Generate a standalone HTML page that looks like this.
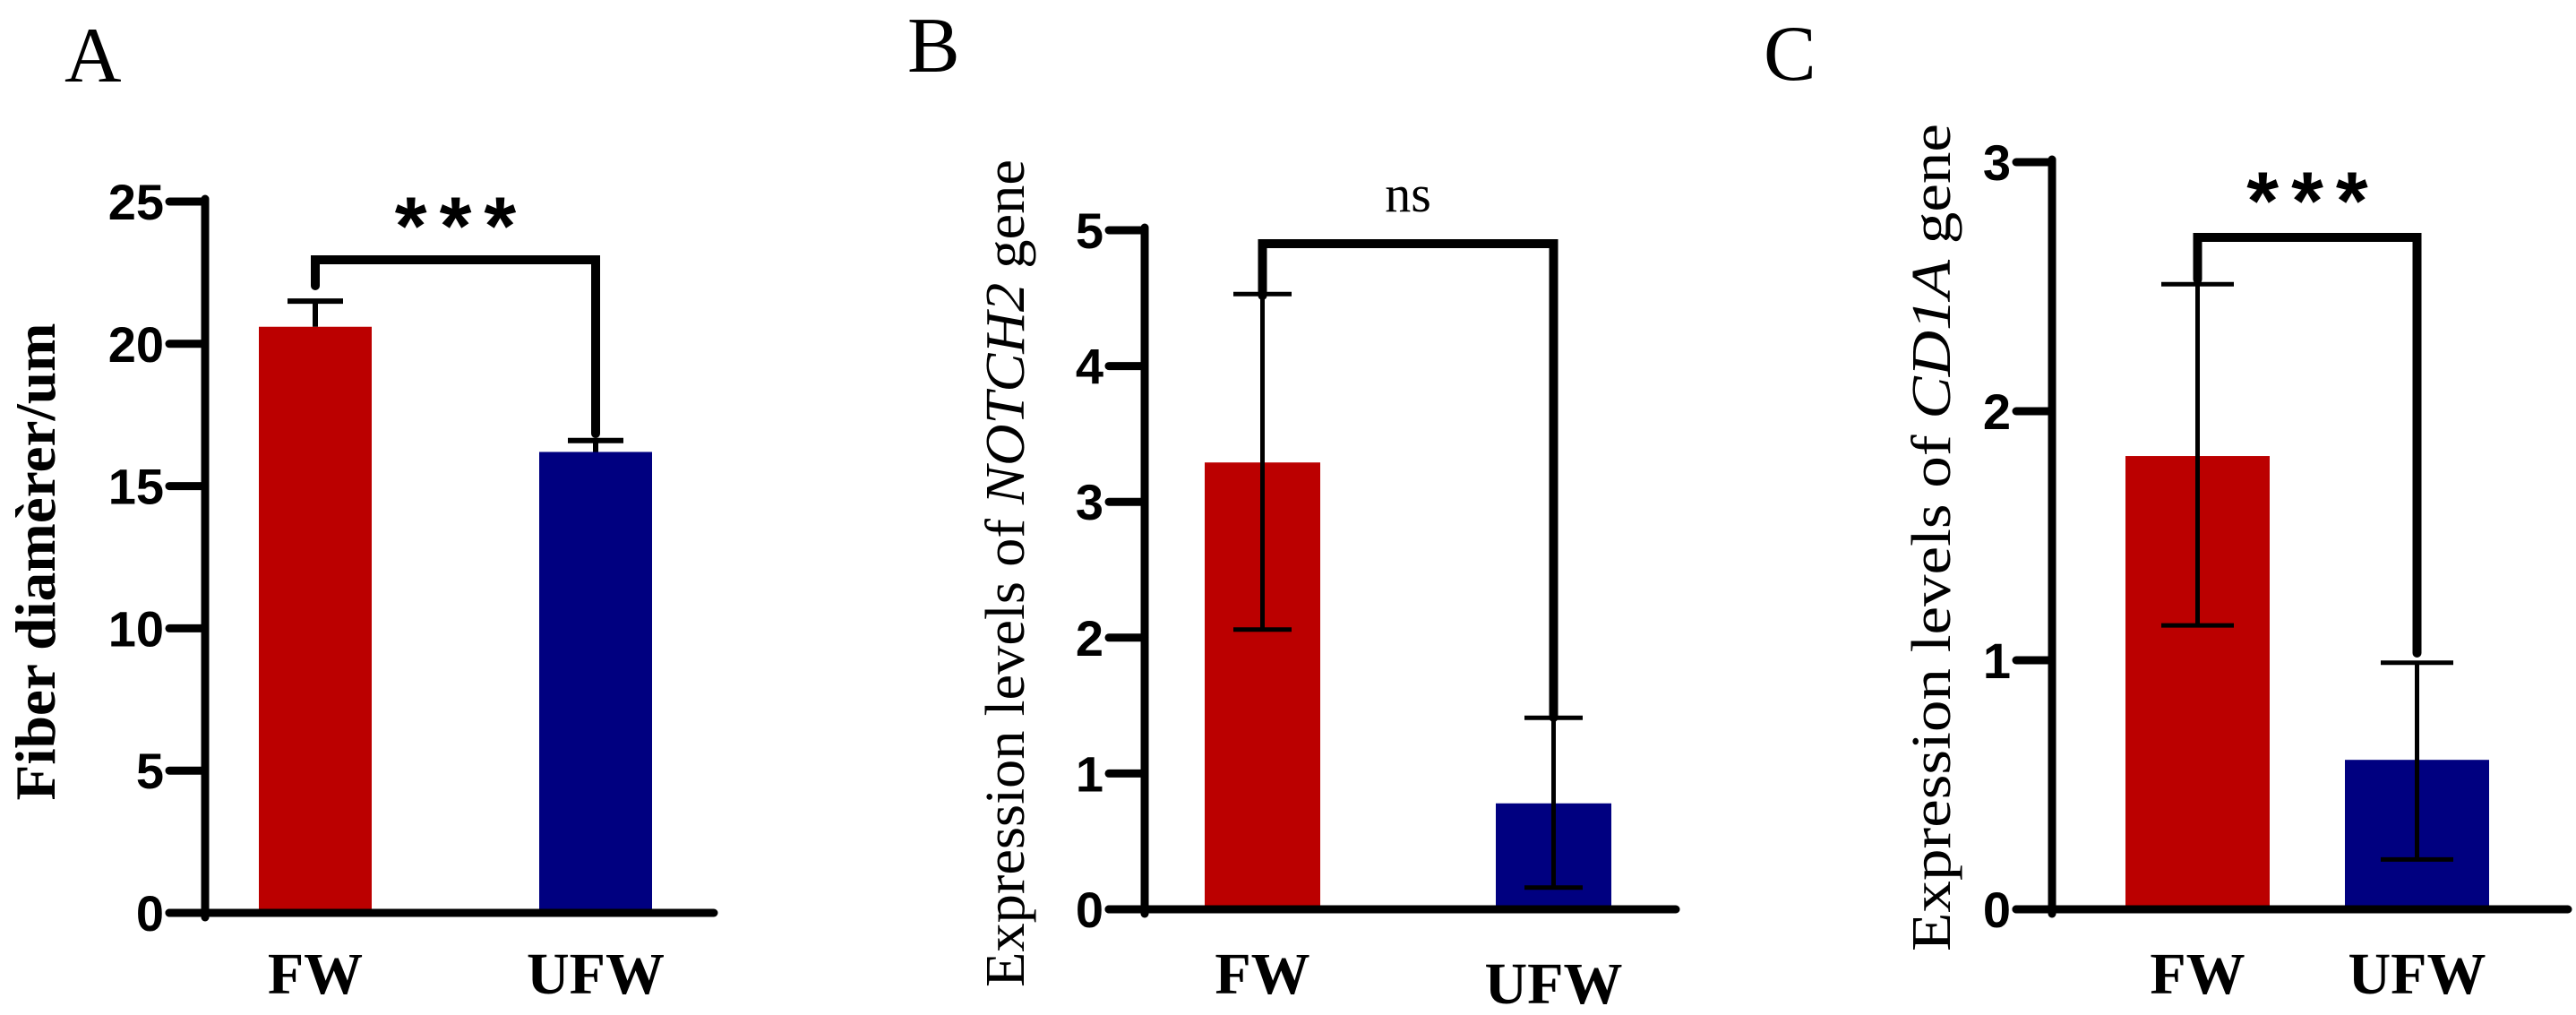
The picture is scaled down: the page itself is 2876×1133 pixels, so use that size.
<!DOCTYPE html>
<html><head><meta charset="utf-8"><style>
html,body{margin:0;padding:0;background:#fff;}
svg{display:block;}
</style></head><body>
<svg id="fig" width="2876" height="1133" viewBox="0 0 2876 1133" xmlns="http://www.w3.org/2000/svg"></svg>
<script>
// Data arrays
const categories = ["FW", "UFW"];
const panelALabel = "A", panelBLabel = "B", panelCLabel = "C";
const fiberMeans = [20.6, 16.2];
const fiberErrUp = [21.5, 16.6];
const fiberErrLow = [20.6, 16.2];
const fiberTicks = [0, 5, 10, 15, 20, 25];
const notchMeans = [3.29, 0.78];
const notchErrUp = [4.53, 1.41];
const notchErrLow = [2.06, 0.16];
const notchTicks = [0, 1, 2, 3, 4, 5];
const cd1aMeans = [1.82, 0.6];
const cd1aErrUp = [2.51, 0.99];
const cd1aErrLow = [1.14, 0.2];
const cd1aTicks = [0, 1, 2, 3];
const sigLabels = ["***", "ns", "***"];

const NS = "http://www.w3.org/2000/svg";
const svg = document.getElementById('fig');
function mk(tag, attrs, parent){
  const e = document.createElementNS(NS, tag);
  for (const k in attrs) e.setAttribute(k, attrs[k]);
  (parent||svg).appendChild(e);
  return e;
}
const colors = ["#bb0000", "#000080"];

function panel(cfg){
  const g = mk('g', {});
  
  
  const yMax = cfg.ticks[cfg.ticks.length-1];
  const y = v => cfg.y0 - (cfg.y0 - cfg.yTop) * v / yMax;
  const L = mk('text', {x: cfg.letterX, y: cfg.letterY, 'font-family': '"Liberation Serif", serif', 'font-size': 88, fill: '#000'}, g);
  L.textContent = cfg.label;
  
  
  categories.forEach((c, i) => {
    const x0 = cfg.barX[i];
    const r = mk('rect', {x: x0, y: y(cfg.means[i]), width: cfg.barW, height: y(0) - y(cfg.means[i]), fill: colors[i]}, g);
    
    
    const cx = x0 + cfg.barW/2;
    const eg = mk('g', {stroke: '#000', 'stroke-width': cfg.errW, fill: 'none'}, g);
    
    
    mk('line', {x1: cx, x2: cx, y1: y(cfg.up[i]), y2: y(cfg.low[i])}, eg);
    mk('line', {x1: cx - cfg.cap/2, x2: cx + cfg.cap/2, y1: y(cfg.up[i]), y2: y(cfg.up[i])}, eg);
    if (cfg.low[i] < cfg.means[i])
      mk('line', {x1: cx - cfg.cap/2, x2: cx + cfg.cap/2, y1: y(cfg.low[i]), y2: y(cfg.low[i])}, eg);
    const t = mk('text', {x: cx, y: cfg.lblY[i], 'text-anchor': 'middle', 'font-family': '"Liberation Serif", serif', 'font-weight': 'bold', 'font-size': 66, fill: '#000'}, g);
    t.textContent = c;
    
    
  });
  const ax = mk('g', {stroke: '#000', 'stroke-width': 9, 'stroke-linecap': 'round'}, g);
  
  
  mk('line', {x1: cfg.axX, x2: cfg.axX, y1: y(yMax) - 3, y2: y(0) + 5}, ax);
  mk('line', {x1: cfg.axX - 40, x2: cfg.xEnd, y1: y(0), y2: y(0)}, ax);
  cfg.ticks.forEach(v => {
    mk('line', {x1: cfg.axX - 40, x2: cfg.axX, y1: y(v), y2: y(v)}, ax);
    const t = mk('text', {x: cfg.axX - 46, y: y(v) + 20, 'text-anchor': 'end', 'font-family': '"Liberation Sans", sans-serif', 'font-weight': 'bold', 'font-size': 56, fill: '#000'}, g);
    t.textContent = v;
    
    
  });
  const cx0 = cfg.barX[0] + cfg.barW/2, cx1 = cfg.barX[1] + cfg.barW/2;
  const by = cfg.brY;
  const br = mk('polyline', {points: `${cx0},${cfg.brL} ${cx0},${by} ${cx1},${by} ${cx1},${cfg.brR}`, fill: 'none', stroke: '#000', 'stroke-width': 10, 'stroke-linecap': 'round'}, g);
  
  
  const isNs = cfg.sig === 'ns';
  const st = mk('text', {x: (cx0 + cx1)/2 + cfg.sigDx, y: cfg.sigY, 'text-anchor': 'middle', 'font-family': isNs ? '"Liberation Serif", serif' : '"Liberation Sans", sans-serif', 'font-weight': isNs ? 'normal' : 'bold', 'font-size': isNs ? 58 : 92, 'letter-spacing': isNs ? 0 : 14, fill: '#000'}, g);
  st.textContent = cfg.sig;
  
  
  const yt = mk('text', {transform: `translate(${cfg.titleX},${cfg.titleCY}) rotate(-90)`, 'text-anchor': 'middle', 'font-family': '"Liberation Serif", serif', 'font-weight': cfg.titleBold ? 'bold' : 'normal', 'font-size': cfg.titleSize, textLength: cfg.titleLen, lengthAdjust: 'spacingAndGlyphs', fill: '#000'}, g);
  
  
  cfg.title.forEach(p => {
    const s = mk('tspan', p.i ? {'font-style': 'italic'} : {}, yt);
    s.textContent = p.t;
  });
}

panel({label: panelALabel, letterX: 72, letterY: 91, y0: 1019, yTop: 225, ticks: fiberTicks, means: fiberMeans, up: fiberErrUp, low: fiberErrLow,
  axX: 229, xEnd: 797, barX: [289, 602], barW: 126, errW: 6, cap: 62, lblY: [1109, 1109],
  brY: 290, brL: 319, brR: 484, sig: sigLabels[0], sigY: 284, sigDx: 7,
  titleX: 61, titleCY: 627, titleLen: 533, titleSize: 64, titleBold: true, title: [{t: 'Fiber diamèrer/um'}]});
panel({label: panelBLabel, letterX: 1013, letterY: 80, y0: 1015, yTop: 257, ticks: notchTicks, means: notchMeans, up: notchErrUp, low: notchErrLow,
  axX: 1278, xEnd: 1871, barX: [1345, 1670], barW: 129, errW: 5, cap: 65, lblY: [1109, 1120],
  brY: 272, brL: 330, brR: 801, sig: sigLabels[1], sigY: 236, sigDx: 0,
  titleX: 1143, titleCY: 640, titleLen: 924, titleSize: 62, titleBold: false, title: [{t: 'Expression levels of '}, {t: 'NOTCH2', i: true}, {t: ' gene'}]});
panel({label: panelCLabel, letterX: 1969, letterY: 89, y0: 1015, yTop: 181, ticks: cd1aTicks, means: cd1aMeans, up: cd1aErrUp, low: cd1aErrLow,
  axX: 2291, xEnd: 2867, barX: [2373, 2618], barW: 161, errW: 5, cap: 81, lblY: [1109, 1109],
  brY: 265, brL: 312, brR: 729, sig: sigLabels[2], sigY: 256, sigDx: 7,
  titleX: 2177, titleCY: 600, titleLen: 924, titleSize: 62, titleBold: false, title: [{t: 'Expression levels of '}, {t: 'CD1A', i: true}, {t: ' gene'}]});
</script>
</body></html>
